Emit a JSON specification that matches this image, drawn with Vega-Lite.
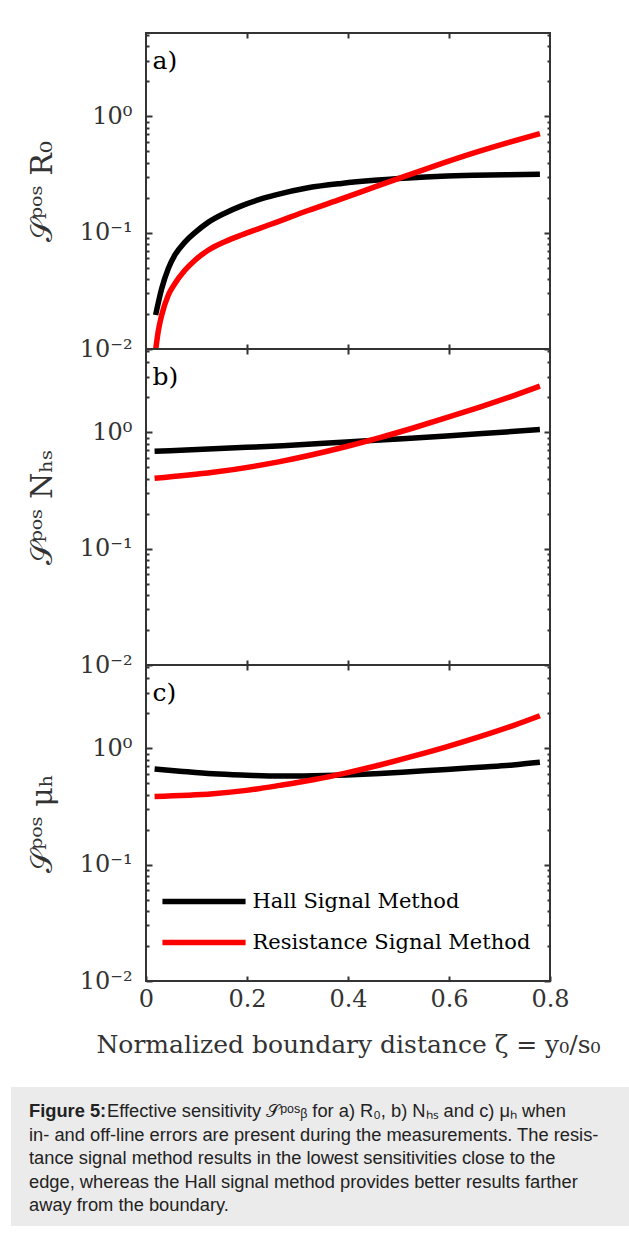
{
  "$schema": "https://vega.github.io/schema/vega-lite/v6.json",
  "padding": {"left": 10, "top": 31, "right": 0, "bottom": 7},
  "background": "white",
  "config": {
    "view": {"stroke": "#333333", "strokeWidth": 2},
    "axis": {"domain": false, "grid": false, "labelFlush": false, "labelFont": "DejaVu Serif", "labelFontSize": 24, "labelColor": "#333333", "titleFont": "DejaVu Serif", "titleFontWeight": "normal", "titleColor": "#333333", "tickColor": "#333333", "tickWidth": 2},
    "line": {"strokeWidth": 5.5}
  },
  "datasets": {
    "curves": [
      {"panel": "a", "method": "Hall Signal Method", "x": 0.019, "s": 0.0196},
      {"panel": "a", "method": "Hall Signal Method", "x": 0.031, "s": 0.033},
      {"panel": "a", "method": "Hall Signal Method", "x": 0.044, "s": 0.049},
      {"panel": "a", "method": "Hall Signal Method", "x": 0.057, "s": 0.064},
      {"panel": "a", "method": "Hall Signal Method", "x": 0.077, "s": 0.083},
      {"panel": "a", "method": "Hall Signal Method", "x": 0.097, "s": 0.1},
      {"panel": "a", "method": "Hall Signal Method", "x": 0.123, "s": 0.1225},
      {"panel": "a", "method": "Hall Signal Method", "x": 0.156, "s": 0.147},
      {"panel": "a", "method": "Hall Signal Method", "x": 0.189, "s": 0.17},
      {"panel": "a", "method": "Hall Signal Method", "x": 0.225, "s": 0.193},
      {"panel": "a", "method": "Hall Signal Method", "x": 0.255, "s": 0.21},
      {"panel": "a", "method": "Hall Signal Method", "x": 0.321, "s": 0.243},
      {"panel": "a", "method": "Hall Signal Method", "x": 0.387, "s": 0.265},
      {"panel": "a", "method": "Hall Signal Method", "x": 0.453, "s": 0.282},
      {"panel": "a", "method": "Hall Signal Method", "x": 0.519, "s": 0.295},
      {"panel": "a", "method": "Hall Signal Method", "x": 0.585, "s": 0.305},
      {"panel": "a", "method": "Hall Signal Method", "x": 0.651, "s": 0.311},
      {"panel": "a", "method": "Hall Signal Method", "x": 0.717, "s": 0.315},
      {"panel": "a", "method": "Hall Signal Method", "x": 0.78, "s": 0.318},
      {"panel": "a", "method": "Resistance Signal Method", "x": 0.019, "s": 0.0097},
      {"panel": "a", "method": "Resistance Signal Method", "x": 0.024, "s": 0.014},
      {"panel": "a", "method": "Resistance Signal Method", "x": 0.031, "s": 0.0195},
      {"panel": "a", "method": "Resistance Signal Method", "x": 0.044, "s": 0.029},
      {"panel": "a", "method": "Resistance Signal Method", "x": 0.057, "s": 0.0364},
      {"panel": "a", "method": "Resistance Signal Method", "x": 0.077, "s": 0.0475},
      {"panel": "a", "method": "Resistance Signal Method", "x": 0.097, "s": 0.058},
      {"panel": "a", "method": "Resistance Signal Method", "x": 0.123, "s": 0.0706},
      {"panel": "a", "method": "Resistance Signal Method", "x": 0.156, "s": 0.0835},
      {"panel": "a", "method": "Resistance Signal Method", "x": 0.189, "s": 0.0955},
      {"panel": "a", "method": "Resistance Signal Method", "x": 0.225, "s": 0.109},
      {"panel": "a", "method": "Resistance Signal Method", "x": 0.255, "s": 0.1215},
      {"panel": "a", "method": "Resistance Signal Method", "x": 0.321, "s": 0.155},
      {"panel": "a", "method": "Resistance Signal Method", "x": 0.387, "s": 0.195},
      {"panel": "a", "method": "Resistance Signal Method", "x": 0.453, "s": 0.247},
      {"panel": "a", "method": "Resistance Signal Method", "x": 0.519, "s": 0.312},
      {"panel": "a", "method": "Resistance Signal Method", "x": 0.585, "s": 0.392},
      {"panel": "a", "method": "Resistance Signal Method", "x": 0.651, "s": 0.487},
      {"panel": "a", "method": "Resistance Signal Method", "x": 0.717, "s": 0.594},
      {"panel": "a", "method": "Resistance Signal Method", "x": 0.78, "s": 0.71},
      {"panel": "b", "method": "Hall Signal Method", "x": 0.017, "s": 0.687},
      {"panel": "b", "method": "Hall Signal Method", "x": 0.199, "s": 0.743},
      {"panel": "b", "method": "Hall Signal Method", "x": 0.271, "s": 0.768},
      {"panel": "b", "method": "Hall Signal Method", "x": 0.397, "s": 0.826},
      {"panel": "b", "method": "Hall Signal Method", "x": 0.508, "s": 0.88},
      {"panel": "b", "method": "Hall Signal Method", "x": 0.595, "s": 0.93},
      {"panel": "b", "method": "Hall Signal Method", "x": 0.666, "s": 0.975},
      {"panel": "b", "method": "Hall Signal Method", "x": 0.78, "s": 1.055},
      {"panel": "b", "method": "Resistance Signal Method", "x": 0.017, "s": 0.402},
      {"panel": "b", "method": "Resistance Signal Method", "x": 0.133, "s": 0.453},
      {"panel": "b", "method": "Resistance Signal Method", "x": 0.265, "s": 0.56},
      {"panel": "b", "method": "Resistance Signal Method", "x": 0.397, "s": 0.755},
      {"panel": "b", "method": "Resistance Signal Method", "x": 0.463, "s": 0.9},
      {"panel": "b", "method": "Resistance Signal Method", "x": 0.529, "s": 1.089},
      {"panel": "b", "method": "Resistance Signal Method", "x": 0.595, "s": 1.334},
      {"panel": "b", "method": "Resistance Signal Method", "x": 0.661, "s": 1.648},
      {"panel": "b", "method": "Resistance Signal Method", "x": 0.727, "s": 2.06},
      {"panel": "b", "method": "Resistance Signal Method", "x": 0.78, "s": 2.49},
      {"panel": "c", "method": "Hall Signal Method", "x": 0.017, "s": 0.665},
      {"panel": "c", "method": "Hall Signal Method", "x": 0.067, "s": 0.636},
      {"panel": "c", "method": "Hall Signal Method", "x": 0.133, "s": 0.603},
      {"panel": "c", "method": "Hall Signal Method", "x": 0.199, "s": 0.587},
      {"panel": "c", "method": "Hall Signal Method", "x": 0.265, "s": 0.577},
      {"panel": "c", "method": "Hall Signal Method", "x": 0.331, "s": 0.581},
      {"panel": "c", "method": "Hall Signal Method", "x": 0.397, "s": 0.591},
      {"panel": "c", "method": "Hall Signal Method", "x": 0.463, "s": 0.608},
      {"panel": "c", "method": "Hall Signal Method", "x": 0.529, "s": 0.632},
      {"panel": "c", "method": "Hall Signal Method", "x": 0.595, "s": 0.657},
      {"panel": "c", "method": "Hall Signal Method", "x": 0.661, "s": 0.688},
      {"panel": "c", "method": "Hall Signal Method", "x": 0.727, "s": 0.72},
      {"panel": "c", "method": "Hall Signal Method", "x": 0.78, "s": 0.759},
      {"panel": "c", "method": "Resistance Signal Method", "x": 0.017, "s": 0.386},
      {"panel": "c", "method": "Resistance Signal Method", "x": 0.133, "s": 0.407},
      {"panel": "c", "method": "Resistance Signal Method", "x": 0.199, "s": 0.435},
      {"panel": "c", "method": "Resistance Signal Method", "x": 0.265, "s": 0.48},
      {"panel": "c", "method": "Resistance Signal Method", "x": 0.331, "s": 0.536},
      {"panel": "c", "method": "Resistance Signal Method", "x": 0.397, "s": 0.615},
      {"panel": "c", "method": "Resistance Signal Method", "x": 0.463, "s": 0.719},
      {"panel": "c", "method": "Resistance Signal Method", "x": 0.529, "s": 0.855},
      {"panel": "c", "method": "Resistance Signal Method", "x": 0.595, "s": 1.029},
      {"panel": "c", "method": "Resistance Signal Method", "x": 0.661, "s": 1.258},
      {"panel": "c", "method": "Resistance Signal Method", "x": 0.727, "s": 1.567},
      {"panel": "c", "method": "Resistance Signal Method", "x": 0.78, "s": 1.905}
    ],
    "panels": [
      {"panel": "a", "label": "a)"},
      {"panel": "b", "label": "b)"},
      {"panel": "c", "label": "c)"}
    ],
    "caption": [
      {"line": 1, "part": "bold", "text": "Figure 5:"},
      {"line": 1, "part": "first", "text": "Effective sensitivity 𝒮ᵖᵒˢᵦ for a) R₀, b) Nₕₛ and c) μₕ when"},
      {"line": 2, "part": "body", "text": "in- and off-line errors are present during the measurements. The resis-"},
      {"line": 3, "part": "body", "text": "tance signal method results in the lowest sensitivities close to the"},
      {"line": 4, "part": "body", "text": "edge, whereas the Hall signal method provides better results farther"},
      {"line": 5, "part": "body", "text": "away from the boundary."}
    ]
  },
  "vconcat": [
    {
      "spacing": 0,
      "bounds": "flush",
      "resolve": {"legend": {"color": "independent"}},
      "vconcat": [
        {
          "width": 404, "height": 316,
          "layer": [
            {
              "data": {"name": "curves"},
              "transform": [{"filter": "datum.panel == 'a' && datum.method == 'Hall Signal Method'"}],
              "mark": {"type": "line", "interpolate": "monotone", "clip": true},
              "encoding": {
                "x": {"field": "x", "type": "quantitative", "scale": {"domain": [0, 0.8], "nice": false}, "axis": {"orient": "bottom", "values": [0.2, 0.4, 0.6], "labels": false, "tickSize": -5, "title": null}},
                "y": {"field": "s", "type": "quantitative", "scale": {"type": "log", "domain": [0.01, 5.2], "nice": false}, "axis": {"orient": "left", "values": [0.01,0.02,0.03,0.04,0.05,0.06,0.07,0.08,0.09,0.1,0.2,0.3,0.4,0.5,0.6,0.7,0.8,0.9,1,2,3,4,5], "labelExpr": "datum.value == 1 ? '10⁰' : datum.value == 0.1 ? '10⁻¹' : datum.value == 0.01 ? '10⁻²' : ''", "labelFontSize": {"condition": {"test": "datum.value == 0.01 || datum.value == 0.1 || datum.value == 1", "value": 24}, "value": 0}, "tickSize": {"condition": {"test": "datum.value == 0.01 || datum.value == 0.1 || datum.value == 1", "value": -6}, "value": -3}, "labelPadding": 20, "labelOverlap": false, "title": "𝒮ᵖᵒˢ R₀", "titleFontSize": 30, "titlePadding": 22}},
                "color": {"field": "method", "type": "nominal", "scale": {"domain": ["Hall Signal Method", "Resistance Signal Method"], "range": ["#000000", "#ff0000"]}, "legend": null}
              }
            },
            {
              "data": {"name": "curves"},
              "transform": [{"filter": "datum.panel == 'a' && datum.method == 'Resistance Signal Method'"}],
              "mark": {"type": "line", "interpolate": "monotone", "clip": true},
              "encoding": {
                "x": {"field": "x", "type": "quantitative", "scale": {"domain": [0, 0.8], "nice": false}, "axis": {"orient": "top", "values": [0.2, 0.4, 0.6], "labels": false, "tickSize": -5, "title": null}},
                "y": {"field": "s", "type": "quantitative", "scale": {"type": "log", "domain": [0.01, 5.2], "nice": false}, "axis": {"orient": "right", "values": [0.01,0.02,0.03,0.04,0.05,0.06,0.07,0.08,0.09,0.1,0.2,0.3,0.4,0.5,0.6,0.7,0.8,0.9,1,2,3,4,5], "labels": false, "tickSize": {"condition": {"test": "datum.value == 0.01 || datum.value == 0.1 || datum.value == 1", "value": -6}, "value": -3}, "title": null}},
                "color": {"field": "method", "type": "nominal", "scale": {"domain": ["Hall Signal Method", "Resistance Signal Method"], "range": ["#000000", "#ff0000"]}, "legend": null}
              }
            },
            {
              "data": {"name": "panels"},
              "transform": [{"filter": "datum.panel == 'a'"}],
              "mark": {"type": "text", "font": "DejaVu Serif", "fontSize": 25, "align": "left", "baseline": "middle", "color": "#000000"},
              "encoding": {
                "x": {"datum": 0.013, "type": "quantitative", "axis": null},
                "y": {"datum": 3.0, "type": "quantitative", "scale": {"type": "log"}, "axis": null},
                "text": {"field": "label"}
              }
            }
          ],
          "resolve": {"axis": {"x": "independent", "y": "independent"}}
        },
        {
          "width": 404, "height": 316,
          "layer": [
            {
              "data": {"name": "curves"},
              "transform": [{"filter": "datum.panel == 'b' && datum.method == 'Hall Signal Method'"}],
              "mark": {"type": "line", "interpolate": "monotone", "clip": true},
              "encoding": {
                "x": {"field": "x", "type": "quantitative", "scale": {"domain": [0, 0.8], "nice": false}, "axis": {"orient": "bottom", "values": [0.2, 0.4, 0.6], "labels": false, "tickSize": -5, "title": null}},
                "y": {"field": "s", "type": "quantitative", "scale": {"type": "log", "domain": [0.01, 5.2], "nice": false}, "axis": {"orient": "left", "values": [0.01,0.02,0.03,0.04,0.05,0.06,0.07,0.08,0.09,0.1,0.2,0.3,0.4,0.5,0.6,0.7,0.8,0.9,1,2,3,4,5], "labelExpr": "datum.value == 1 ? '10⁰' : datum.value == 0.1 ? '10⁻¹' : datum.value == 0.01 ? '10⁻²' : ''", "labelFontSize": {"condition": {"test": "datum.value == 0.01 || datum.value == 0.1 || datum.value == 1", "value": 24}, "value": 0}, "tickSize": {"condition": {"test": "datum.value == 0.01 || datum.value == 0.1 || datum.value == 1", "value": -6}, "value": -3}, "labelPadding": 20, "labelOverlap": false, "title": "𝒮ᵖᵒˢ Nₕₛ", "titleFontSize": 30, "titlePadding": 22}},
                "color": {"field": "method", "type": "nominal", "scale": {"domain": ["Hall Signal Method", "Resistance Signal Method"], "range": ["#000000", "#ff0000"]}, "legend": null}
              }
            },
            {
              "data": {"name": "curves"},
              "transform": [{"filter": "datum.panel == 'b' && datum.method == 'Resistance Signal Method'"}],
              "mark": {"type": "line", "interpolate": "monotone", "clip": true},
              "encoding": {
                "x": {"field": "x", "type": "quantitative", "scale": {"domain": [0, 0.8], "nice": false}, "axis": {"orient": "top", "values": [0.2, 0.4, 0.6], "labels": false, "tickSize": -5, "title": null}},
                "y": {"field": "s", "type": "quantitative", "scale": {"type": "log", "domain": [0.01, 5.2], "nice": false}, "axis": {"orient": "right", "values": [0.01,0.02,0.03,0.04,0.05,0.06,0.07,0.08,0.09,0.1,0.2,0.3,0.4,0.5,0.6,0.7,0.8,0.9,1,2,3,4,5], "labels": false, "tickSize": {"condition": {"test": "datum.value == 0.01 || datum.value == 0.1 || datum.value == 1", "value": -6}, "value": -3}, "title": null}},
                "color": {"field": "method", "type": "nominal", "scale": {"domain": ["Hall Signal Method", "Resistance Signal Method"], "range": ["#000000", "#ff0000"]}, "legend": null}
              }
            },
            {
              "data": {"name": "panels"},
              "transform": [{"filter": "datum.panel == 'b'"}],
              "mark": {"type": "text", "font": "DejaVu Serif", "fontSize": 25, "align": "left", "baseline": "middle", "color": "#000000"},
              "encoding": {
                "x": {"datum": 0.013, "type": "quantitative", "axis": null},
                "y": {"datum": 3.0, "type": "quantitative", "scale": {"type": "log"}, "axis": null},
                "text": {"field": "label"}
              }
            }
          ],
          "resolve": {"axis": {"x": "independent", "y": "independent"}}
        },
        {
          "width": 404, "height": 316,
          "layer": [
            {
              "data": {"name": "curves"},
              "transform": [{"filter": "datum.panel == 'c' && datum.method == 'Hall Signal Method'"}],
              "mark": {"type": "line", "interpolate": "monotone", "clip": true},
              "encoding": {
                "x": {"field": "x", "type": "quantitative", "scale": {"domain": [0, 0.8], "nice": false}, "axis": {"orient": "bottom", "values": [0, 0.2, 0.4, 0.6, 0.8], "labelExpr": "datum.value == 0 ? '0' : format(datum.value, '.1f')", "tickSize": -5, "labelPadding": 11, "title": "Normalized boundary distance ζ = y₀/s₀", "titleFontSize": 25, "titlePadding": 21}},
                "y": {"field": "s", "type": "quantitative", "scale": {"type": "log", "domain": [0.01, 5.2], "nice": false}, "axis": {"orient": "left", "values": [0.01,0.02,0.03,0.04,0.05,0.06,0.07,0.08,0.09,0.1,0.2,0.3,0.4,0.5,0.6,0.7,0.8,0.9,1,2,3,4,5], "labelExpr": "datum.value == 1 ? '10⁰' : datum.value == 0.1 ? '10⁻¹' : datum.value == 0.01 ? '10⁻²' : ''", "labelFontSize": {"condition": {"test": "datum.value == 0.01 || datum.value == 0.1 || datum.value == 1", "value": 24}, "value": 0}, "tickSize": {"condition": {"test": "datum.value == 0.01 || datum.value == 0.1 || datum.value == 1", "value": -6}, "value": -3}, "labelPadding": 20, "labelOverlap": false, "title": "𝒮ᵖᵒˢ μₕ", "titleFontSize": 30, "titlePadding": 22}},
                "color": {"field": "method", "type": "nominal", "scale": {"domain": ["Hall Signal Method", "Resistance Signal Method"], "range": ["#000000", "#ff0000"]}, "legend": {"orient": "none", "legendX": 47.5, "legendY": 226, "title": null, "symbolType": "M-16,0H16", "symbolSize": 27, "symbolStrokeWidth": 6, "labelFont": "DejaVu Serif", "labelFontSize": 21, "labelColor": "#000000", "labelOffset": 38, "labelLimit": 0, "rowPadding": 18, "padding": 0}}
              }
            },
            {
              "data": {"name": "curves"},
              "transform": [{"filter": "datum.panel == 'c' && datum.method == 'Resistance Signal Method'"}],
              "mark": {"type": "line", "interpolate": "monotone", "clip": true},
              "encoding": {
                "x": {"field": "x", "type": "quantitative", "scale": {"domain": [0, 0.8], "nice": false}, "axis": {"orient": "top", "values": [0.2, 0.4, 0.6], "labels": false, "tickSize": -5, "title": null}},
                "y": {"field": "s", "type": "quantitative", "scale": {"type": "log", "domain": [0.01, 5.2], "nice": false}, "axis": {"orient": "right", "values": [0.01,0.02,0.03,0.04,0.05,0.06,0.07,0.08,0.09,0.1,0.2,0.3,0.4,0.5,0.6,0.7,0.8,0.9,1,2,3,4,5], "labels": false, "tickSize": {"condition": {"test": "datum.value == 0.01 || datum.value == 0.1 || datum.value == 1", "value": -6}, "value": -3}, "title": null}},
                "color": {"field": "method", "type": "nominal", "scale": {"domain": ["Hall Signal Method", "Resistance Signal Method"], "range": ["#000000", "#ff0000"]}, "legend": {"orient": "none", "legendX": 47.5, "legendY": 226, "title": null, "symbolType": "M-16,0H16", "symbolSize": 27, "symbolStrokeWidth": 6, "labelFont": "DejaVu Serif", "labelFontSize": 21, "labelColor": "#000000", "labelOffset": 38, "labelLimit": 0, "rowPadding": 18, "padding": 0}}
              }
            },
            {
              "data": {"name": "panels"},
              "transform": [{"filter": "datum.panel == 'c'"}],
              "mark": {"type": "text", "font": "DejaVu Serif", "fontSize": 25, "align": "left", "baseline": "middle", "color": "#000000"},
              "encoding": {
                "x": {"datum": 0.013, "type": "quantitative", "axis": null},
                "y": {"datum": 3.0, "type": "quantitative", "scale": {"type": "log"}, "axis": null},
                "text": {"field": "label"}
              }
            }
          ],
          "resolve": {"axis": {"x": "independent", "y": "independent"}}
        }
      ]
    },
    {
      "width": 484, "height": 139,
      "view": {"stroke": null},
      "layer": [
        {
          "data": {"values": [{"box": "caption"}]},
          "mark": {"type": "rect", "color": "#ebebeb", "clip": false},
          "encoding": {
            "x": {"datum": -0.279, "type": "quantitative", "scale": {"domain": [0, 1], "nice": false, "zero": false}, "axis": null},
            "x2": {"datum": 1},
            "y": {"datum": -0.064, "type": "quantitative", "scale": {"domain": [-0.064, 5.851], "reverse": true, "nice": false, "zero": false}, "axis": null},
            "y2": {"datum": 5.851}
          }
        },
        {
          "data": {"name": "caption"},
          "transform": [{"filter": "datum.part == 'bold'"}],
          "mark": {"type": "text", "font": "Liberation Sans", "fontSize": 18.3, "fontWeight": "bold", "align": "left", "baseline": "middle", "color": "#222222", "clip": false},
          "encoding": {
            "x": {"datum": -0.2417, "type": "quantitative", "axis": null},
            "y": {"field": "line", "type": "quantitative", "axis": null},
            "text": {"field": "text"}
          }
        },
        {
          "data": {"name": "caption"},
          "transform": [{"filter": "datum.part == 'first'"}],
          "mark": {"type": "text", "font": "Liberation Sans", "fontSize": 18.3, "align": "left", "baseline": "middle", "color": "#222222", "clip": false},
          "encoding": {
            "x": {"datum": -0.0806, "type": "quantitative", "axis": null},
            "y": {"field": "line", "type": "quantitative", "axis": null},
            "text": {"field": "text"}
          }
        },
        {
          "data": {"name": "caption"},
          "transform": [{"filter": "datum.part == 'body'"}],
          "mark": {"type": "text", "font": "Liberation Sans", "fontSize": 18.3, "align": "left", "baseline": "middle", "color": "#222222", "clip": false},
          "encoding": {
            "x": {"datum": -0.2417, "type": "quantitative", "axis": null},
            "y": {"field": "line", "type": "quantitative", "axis": null},
            "text": {"field": "text"}
          }
        }
      ]
    }
  ],
  "spacing": 29
}
